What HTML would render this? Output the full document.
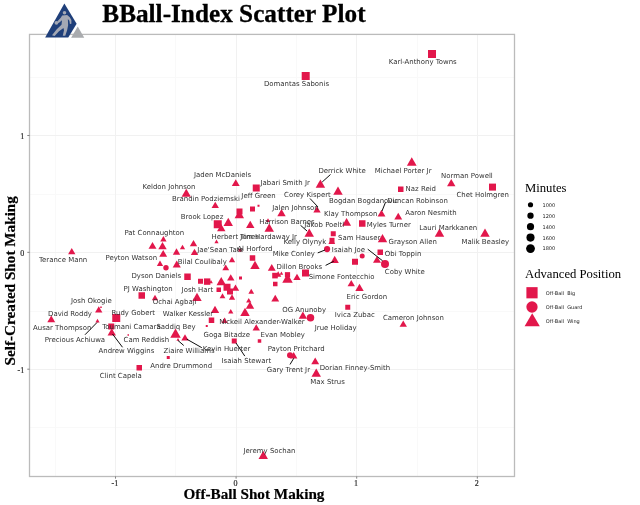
<!DOCTYPE html>
<html lang="en"><head><meta charset="utf-8"><title>BBall-Index Scatter Plot</title>
<style>
html,body{margin:0;padding:0;background:#fff;}
body{width:640px;height:505px;overflow:hidden;}
svg{display:block;}
.lab{font-family:"DejaVu Sans","Liberation Sans",sans-serif;font-size:6.95px;fill:#333333;}
.ser{font-family:"Liberation Serif","Times New Roman",serif;fill:#000;}
.tick{font-family:"Liberation Serif","Times New Roman",serif;font-size:8px;fill:#2a2a2a;stroke:#2a2a2a;stroke-width:0.2px;}
.key{font-family:"DejaVu Sans","Liberation Sans",sans-serif;font-size:5px;fill:#1a1a1a;}
</style></head><body>
<svg width="640" height="505" viewBox="0 0 640 505">
<rect x="0" y="0" width="640" height="505" fill="#ffffff"/>

<g stroke-linecap="butt" fill="none" shape-rendering="crispEdges">
<line x1="55.5" y1="34.4" x2="55.5" y2="476.5" stroke="#f9f9f9" stroke-width="1"/>
<line x1="175.5" y1="34.4" x2="175.5" y2="476.5" stroke="#f9f9f9" stroke-width="1"/>
<line x1="296.5" y1="34.4" x2="296.5" y2="476.5" stroke="#f9f9f9" stroke-width="1"/>
<line x1="417.5" y1="34.4" x2="417.5" y2="476.5" stroke="#f9f9f9" stroke-width="1"/>
<line x1="29.5" y1="427.5" x2="514.5" y2="427.5" stroke="#f9f9f9" stroke-width="1"/>
<line x1="29.5" y1="311.5" x2="514.5" y2="311.5" stroke="#f9f9f9" stroke-width="1"/>
<line x1="29.5" y1="194.5" x2="514.5" y2="194.5" stroke="#f9f9f9" stroke-width="1"/>
<line x1="29.5" y1="77.5" x2="514.5" y2="77.5" stroke="#f9f9f9" stroke-width="1"/>
<line x1="115.5" y1="34.4" x2="115.5" y2="476.5" stroke="#f1f1f1" stroke-width="1"/>
<line x1="236.5" y1="34.4" x2="236.5" y2="476.5" stroke="#f1f1f1" stroke-width="1"/>
<line x1="356.5" y1="34.4" x2="356.5" y2="476.5" stroke="#f1f1f1" stroke-width="1"/>
<line x1="477.5" y1="34.4" x2="477.5" y2="476.5" stroke="#f1f1f1" stroke-width="1"/>
<line x1="29.5" y1="369.5" x2="514.5" y2="369.5" stroke="#f1f1f1" stroke-width="1"/>
<line x1="29.5" y1="252.5" x2="514.5" y2="252.5" stroke="#f1f1f1" stroke-width="1"/>
<line x1="29.5" y1="135.5" x2="514.5" y2="135.5" stroke="#f1f1f1" stroke-width="1"/>
</g>
<g>
<rect x="428.00" y="50.00" width="8.00" height="8.00" fill="#E2174B"/>
<rect x="301.70" y="72.00" width="8.00" height="8.00" fill="#E2174B"/>
<polygon points="71.75,247.97 75.42,254.33 68.08,254.33" fill="#E2174B"/>
<polygon points="235.75,179.24 239.69,186.06 231.81,186.06" fill="#E2174B"/>
<rect x="252.75" y="184.50" width="7.00" height="7.00" fill="#E2174B"/>
<polygon points="186.25,188.65 190.87,196.65 181.63,196.65" fill="#E2174B"/>
<polygon points="215.25,201.72 218.93,208.08 211.57,208.08" fill="#E2174B"/>
<rect x="250.00" y="206.50" width="5.00" height="5.00" fill="#E2174B"/>
<rect x="257.50" y="204.75" width="2.00" height="2.00" fill="#E2174B"/>
<rect x="236.50" y="208.50" width="6.00" height="6.00" fill="#E2174B"/>
<polygon points="239.30,210.06 244.03,218.24 234.58,218.24" fill="#E2174B"/>
<polygon points="281.50,209.01 285.70,216.29 277.30,216.29" fill="#E2174B"/>
<rect x="213.75" y="220.25" width="8.00" height="8.00" fill="#E2174B"/>
<polygon points="221.25,224.01 225.45,231.29 217.05,231.29" fill="#E2174B"/>
<polygon points="228.25,217.81 232.97,225.99 223.53,225.99" fill="#E2174B"/>
<polygon points="250.25,220.76 254.45,228.04 246.05,228.04" fill="#E2174B"/>
<polygon points="268.00,218.33 270.10,221.97 265.90,221.97" fill="#E2174B"/>
<polygon points="269.25,223.56 273.98,231.74 264.52,231.74" fill="#E2174B"/>
<polygon points="309.25,228.56 313.98,236.74 304.52,236.74" fill="#E2174B"/>
<polygon points="216.50,239.58 218.60,243.22 214.40,243.22" fill="#E2174B"/>
<polygon points="193.50,239.97 197.18,246.33 189.82,246.33" fill="#E2174B"/>
<polygon points="163.40,236.12 166.55,241.58 160.25,241.58" fill="#E2174B"/>
<polygon points="152.50,241.89 156.49,248.81 148.51,248.81" fill="#E2174B"/>
<polygon points="162.50,242.01 166.70,249.29 158.30,249.29" fill="#E2174B"/>
<polygon points="182.50,244.63 185.12,249.17 179.88,249.17" fill="#E2174B"/>
<polygon points="176.50,248.37 180.18,254.73 172.82,254.73" fill="#E2174B"/>
<polygon points="194.50,248.72 198.18,255.08 190.82,255.08" fill="#E2174B"/>
<polygon points="163.20,249.94 167.14,256.76 159.26,256.76" fill="#E2174B"/>
<rect x="238.50" y="248.75" width="3.00" height="3.00" fill="#E2174B"/>
<polygon points="232.00,256.67 235.15,262.13 228.85,262.13" fill="#E2174B"/>
<rect x="249.75" y="255.25" width="5.50" height="5.50" fill="#E2174B"/>
<polygon points="255.00,260.81 259.73,268.99 250.28,268.99" fill="#E2174B"/>
<polygon points="176.75,260.50 180.84,267.60 172.66,267.60" fill="#E2174B"/>
<circle cx="166.00" cy="267.70" r="2.70" fill="#E2174B"/>
<polygon points="160.00,260.42 163.15,265.88 156.85,265.88" fill="#E2174B"/>
<polygon points="225.75,264.44 229.16,270.36 222.34,270.36" fill="#E2174B"/>
<polygon points="271.75,263.99 275.69,270.81 267.81,270.81" fill="#E2174B"/>
<rect x="184.25" y="273.50" width="6.50" height="6.50" fill="#E2174B"/>
<rect x="198.00" y="278.75" width="5.00" height="5.00" fill="#E2174B"/>
<rect x="203.95" y="278.40" width="6.40" height="6.40" fill="#E2174B"/>
<polygon points="211.00,280.06 212.84,283.24 209.16,283.24" fill="#E2174B"/>
<polygon points="230.75,274.22 234.43,280.58 227.07,280.58" fill="#E2174B"/>
<rect x="239.00" y="276.50" width="3.00" height="3.00" fill="#E2174B"/>
<polygon points="221.25,277.06 225.97,285.24 216.53,285.24" fill="#E2174B"/>
<rect x="223.50" y="283.75" width="7.00" height="7.00" fill="#E2174B"/>
<rect x="216.50" y="287.50" width="4.50" height="4.50" fill="#E2174B"/>
<polygon points="235.50,284.47 239.18,290.83 231.82,290.83" fill="#E2174B"/>
<rect x="227.00" y="288.50" width="6.00" height="6.00" fill="#E2174B"/>
<polygon points="222.50,293.15 225.39,298.15 219.61,298.15" fill="#E2174B"/>
<polygon points="232.00,294.17 235.15,299.63 228.85,299.63" fill="#E2174B"/>
<polygon points="197.00,292.81 201.72,300.99 192.28,300.99" fill="#E2174B"/>
<polygon points="251.25,288.65 254.14,293.65 248.36,293.65" fill="#E2174B"/>
<polygon points="248.75,297.88 251.38,302.42 246.12,302.42" fill="#E2174B"/>
<polygon points="250.00,301.51 254.20,308.79 245.80,308.79" fill="#E2174B"/>
<polygon points="245.00,307.81 249.72,315.99 240.28,315.99" fill="#E2174B"/>
<polygon points="230.75,308.88 233.38,313.42 228.12,313.42" fill="#E2174B"/>
<polygon points="215.00,305.76 219.20,313.04 210.80,313.04" fill="#E2174B"/>
<rect x="208.75" y="317.50" width="5.50" height="5.50" fill="#E2174B"/>
<rect x="205.75" y="325.00" width="2.00" height="2.00" fill="#E2174B"/>
<polygon points="224.50,317.42 227.65,322.88 221.35,322.88" fill="#E2174B"/>
<polygon points="256.25,324.22 259.93,330.58 252.57,330.58" fill="#E2174B"/>
<polygon points="175.50,328.60 180.75,337.70 170.25,337.70" fill="#E2174B"/>
<polygon points="185.00,334.22 188.68,340.58 181.32,340.58" fill="#E2174B"/>
<polygon points="178.00,338.04 179.57,340.76 176.43,340.76" fill="#E2174B"/>
<rect x="231.75" y="338.50" width="5.00" height="5.00" fill="#E2174B"/>
<rect x="257.75" y="339.25" width="3.50" height="3.50" fill="#E2174B"/>
<rect x="272.20" y="272.80" width="5.60" height="5.60" fill="#E2174B"/>
<polygon points="278.20,271.32 281.35,276.78 275.05,276.78" fill="#E2174B"/>
<polygon points="281.40,271.46 283.24,274.64 279.56,274.64" fill="#E2174B"/>
<rect x="284.90" y="272.15" width="5.20" height="5.20" fill="#E2174B"/>
<polygon points="287.50,273.60 292.75,282.70 282.25,282.70" fill="#E2174B"/>
<polygon points="297.00,273.72 300.68,280.08 293.32,280.08" fill="#E2174B"/>
<rect x="302.00" y="269.50" width="7.00" height="7.00" fill="#E2174B"/>
<rect x="273.00" y="281.75" width="4.50" height="4.50" fill="#E2174B"/>
<polygon points="275.25,294.74 279.19,301.56 271.31,301.56" fill="#E2174B"/>
<polygon points="302.90,311.51 307.10,318.79 298.70,318.79" fill="#E2174B"/>
<circle cx="310.50" cy="317.75" r="3.75" fill="#E2174B"/>
<rect x="330.75" y="231.25" width="5.00" height="5.00" fill="#E2174B"/>
<rect x="329.50" y="237.80" width="5.00" height="5.00" fill="#E2174B"/>
<polygon points="331.80,238.09 335.21,244.01 328.39,244.01" fill="#E2174B"/>
<circle cx="327.10" cy="249.10" r="3.10" fill="#E2174B"/>
<polygon points="382.50,234.06 387.23,242.24 377.77,242.24" fill="#E2174B"/>
<polygon points="439.50,228.56 444.23,236.74 434.77,236.74" fill="#E2174B"/>
<rect x="377.50" y="249.50" width="5.50" height="5.50" fill="#E2174B"/>
<circle cx="362.20" cy="256.00" r="2.50" fill="#E2174B"/>
<polygon points="334.70,255.85 338.80,262.95 330.60,262.95" fill="#E2174B"/>
<rect x="352.00" y="258.75" width="6.00" height="6.00" fill="#E2174B"/>
<polygon points="377.00,255.94 380.99,262.86 373.01,262.86" fill="#E2174B"/>
<circle cx="385.00" cy="264.00" r="4.00" fill="#E2174B"/>
<polygon points="351.25,279.97 354.93,286.33 347.57,286.33" fill="#E2174B"/>
<polygon points="359.50,283.76 363.70,291.04 355.30,291.04" fill="#E2174B"/>
<rect x="345.25" y="304.75" width="5.00" height="5.00" fill="#E2174B"/>
<polygon points="403.25,320.47 406.93,326.83 399.57,326.83" fill="#E2174B"/>
<polygon points="320.40,179.56 325.12,187.74 315.67,187.74" fill="#E2174B"/>
<polygon points="317.00,206.22 320.68,212.58 313.32,212.58" fill="#E2174B"/>
<polygon points="411.75,157.17 416.63,165.63 406.87,165.63" fill="#E2174B"/>
<polygon points="451.25,179.01 455.45,186.29 447.05,186.29" fill="#E2174B"/>
<rect x="398.00" y="186.50" width="5.50" height="5.50" fill="#E2174B"/>
<polygon points="338.00,186.56 342.73,194.74 333.27,194.74" fill="#E2174B"/>
<polygon points="381.50,209.74 385.44,216.56 377.56,216.56" fill="#E2174B"/>
<polygon points="398.25,212.74 402.19,219.56 394.31,219.56" fill="#E2174B"/>
<polygon points="346.60,218.04 351.06,225.76 342.14,225.76" fill="#E2174B"/>
<rect x="359.00" y="220.25" width="6.50" height="6.50" fill="#E2174B"/>
<rect x="489.00" y="183.60" width="7.00" height="7.00" fill="#E2174B"/>
<polygon points="485.00,228.56 489.73,236.74 480.27,236.74" fill="#E2174B"/>
<rect x="138.50" y="292.25" width="6.50" height="6.50" fill="#E2174B"/>
<polygon points="155.00,294.67 158.15,300.13 151.85,300.13" fill="#E2174B"/>
<polygon points="98.75,306.22 102.42,312.58 95.08,312.58" fill="#E2174B"/>
<rect x="100.25" y="306.50" width="1.50" height="1.50" fill="#E2174B"/>
<polygon points="51.25,315.49 55.19,322.31 47.31,322.31" fill="#E2174B"/>
<rect x="112.25" y="314.00" width="8.00" height="8.00" fill="#E2174B"/>
<polygon points="97.50,318.83 99.60,322.47 95.40,322.47" fill="#E2174B"/>
<rect x="108.25" y="323.50" width="6.00" height="6.00" fill="#E2174B"/>
<polygon points="111.75,328.26 115.95,335.54 107.55,335.54" fill="#E2174B"/>
<rect x="127.50" y="334.25" width="1.50" height="1.50" fill="#E2174B"/>
<rect x="136.50" y="365.00" width="5.50" height="5.50" fill="#E2174B"/>
<rect x="166.75" y="356.00" width="3.00" height="3.00" fill="#E2174B"/>
<circle cx="290.00" cy="355.25" r="3.00" fill="#E2174B"/>
<polygon points="293.70,352.07 297.38,358.43 290.02,358.43" fill="#E2174B"/>
<polygon points="315.20,357.49 319.14,364.31 311.26,364.31" fill="#E2174B"/>
<polygon points="316.25,368.46 320.98,376.64 311.52,376.64" fill="#E2174B"/>
<polygon points="263.25,450.81 267.98,458.99 258.52,458.99" fill="#E2174B"/>
</g>
<g stroke="#000" stroke-width="0.95" fill="none">
<line x1="310" y1="198.5" x2="318" y2="207"/>
<line x1="300.5" y1="225.25" x2="307" y2="231"/>
<line x1="330.5" y1="174.5" x2="322.2" y2="182"/>
<line x1="385.5" y1="202.25" x2="382" y2="211"/>
<line x1="367.75" y1="249.2" x2="382.6" y2="260.8"/>
<line x1="325.6" y1="265.4" x2="333.75" y2="261.25"/>
<line x1="317.75" y1="252.9" x2="325" y2="250"/>
<line x1="97" y1="322.5" x2="85" y2="334.75"/>
<line x1="112.5" y1="334" x2="122.5" y2="347.25"/>
<line x1="186.7" y1="339.1" x2="201.8" y2="347.7"/>
<line x1="178" y1="340.5" x2="183.75" y2="345.5"/>
<line x1="236" y1="343" x2="244.8" y2="356.1"/>
<line x1="293.75" y1="358.25" x2="290" y2="364.5"/>
</g>
<g class="lab">
<text x="422.72" y="63.75" text-anchor="middle">Karl-Anthony Towns</text>
<text x="296.49" y="86.00" text-anchor="middle">Domantas Sabonis</text>
<text x="222.56" y="176.75" text-anchor="middle">Jaden McDaniels</text>
<text x="285.17" y="185.00" text-anchor="middle">Jabari Smith Jr</text>
<text x="169.03" y="189.00" text-anchor="middle">Keldon Johnson</text>
<text x="205.88" y="201.20" text-anchor="middle">Brandin Podziemski</text>
<text x="258.51" y="198.00" text-anchor="middle">Jeff Green</text>
<text x="307.41" y="197.00" text-anchor="middle">Corey Kispert</text>
<text x="295.53" y="209.50" text-anchor="middle">Jalen Johnson</text>
<text x="202.06" y="219.00" text-anchor="middle">Brook Lopez</text>
<text x="287.00" y="223.50" text-anchor="middle">Harrison Barnes</text>
<text x="235.23" y="238.75" text-anchor="middle">Herbert Jones</text>
<text x="268.52" y="238.90" text-anchor="middle">Tim Hardaway Jr</text>
<text x="304.90" y="244.00" text-anchor="middle">Kelly Olynyk</text>
<text x="220.47" y="251.50" text-anchor="middle">Jae&#x27;Sean Tate</text>
<text x="254.86" y="251.00" text-anchor="middle">Al Horford</text>
<text x="154.37" y="234.90" text-anchor="middle">Pat Connaughton</text>
<text x="63.12" y="261.75" text-anchor="middle">Terance Mann</text>
<text x="131.30" y="260.25" text-anchor="middle">Peyton Watson</text>
<text x="156.36" y="277.75" text-anchor="middle">Dyson Daniels</text>
<text x="148.15" y="291.00" text-anchor="middle">PJ Washington</text>
<text x="174.68" y="304.00" text-anchor="middle">Ochai Agbaji</text>
<text x="91.37" y="303.00" text-anchor="middle">Josh Okogie</text>
<text x="70.02" y="316.00" text-anchor="middle">David Roddy</text>
<text x="133.31" y="315.25" text-anchor="middle">Rudy Gobert</text>
<text x="62.19" y="330.00" text-anchor="middle">Ausar Thompson</text>
<text x="131.48" y="329.00" text-anchor="middle">Toumani Camara</text>
<text x="176.01" y="328.70" text-anchor="middle">Saddiq Bey</text>
<text x="74.91" y="342.25" text-anchor="middle">Precious Achiuwa</text>
<text x="146.35" y="342.25" text-anchor="middle">Cam Reddish</text>
<text x="126.41" y="353.00" text-anchor="middle">Andrew Wiggins</text>
<text x="202.31" y="264.25" text-anchor="middle">Bilal Coulibaly</text>
<text x="299.34" y="268.50" text-anchor="middle">Dillon Brooks</text>
<text x="293.80" y="256.00" text-anchor="middle">Mike Conley</text>
<text x="197.39" y="292.25" text-anchor="middle">Josh Hart</text>
<text x="188.01" y="315.90" text-anchor="middle">Walker Kessler</text>
<text x="261.84" y="323.50" text-anchor="middle">Nickeil Alexander-Walker</text>
<text x="304.18" y="311.50" text-anchor="middle">OG Anunoby</text>
<text x="226.78" y="337.25" text-anchor="middle">Goga Bitadze</text>
<text x="282.71" y="337.25" text-anchor="middle">Evan Mobley</text>
<text x="226.64" y="351.00" text-anchor="middle">Kevin Huerter</text>
<text x="296.24" y="351.00" text-anchor="middle">Payton Pritchard</text>
<text x="189.07" y="352.75" text-anchor="middle">Ziaire Williams</text>
<text x="335.75" y="329.75" text-anchor="middle">Jrue Holiday</text>
<text x="359.18" y="239.50" text-anchor="middle">Sam Hauser</text>
<text x="412.71" y="244.00" text-anchor="middle">Grayson Allen</text>
<text x="485.31" y="244.00" text-anchor="middle">Malik Beasley</text>
<text x="348.49" y="252.25" text-anchor="middle">Isaiah Joe</text>
<text x="403.07" y="256.00" text-anchor="middle">Obi Toppin</text>
<text x="404.82" y="274.00" text-anchor="middle">Coby White</text>
<text x="341.61" y="279.25" text-anchor="middle">Simone Fontecchio</text>
<text x="366.87" y="298.50" text-anchor="middle">Eric Gordon</text>
<text x="354.82" y="317.25" text-anchor="middle">Ivica Zubac</text>
<text x="413.50" y="320.25" text-anchor="middle">Cameron Johnson</text>
<text x="342.07" y="172.75" text-anchor="middle">Derrick White</text>
<text x="403.14" y="172.75" text-anchor="middle">Michael Porter Jr</text>
<text x="466.91" y="178.00" text-anchor="middle">Norman Powell</text>
<text x="420.82" y="190.50" text-anchor="middle">Naz Reid</text>
<text x="482.71" y="196.75" text-anchor="middle">Chet Holmgren</text>
<text x="363.57" y="203.00" text-anchor="middle">Bogdan Bogdanovic</text>
<text x="417.52" y="203.00" text-anchor="middle">Duncan Robinson</text>
<text x="350.70" y="215.50" text-anchor="middle">Klay Thompson</text>
<text x="431.00" y="215.25" text-anchor="middle">Aaron Nesmith</text>
<text x="388.79" y="227.25" text-anchor="middle">Myles Turner</text>
<text x="324.21" y="226.75" text-anchor="middle">Jakob Poeltl</text>
<text x="448.17" y="229.75" text-anchor="middle">Lauri Markkanen</text>
<text x="120.81" y="377.75" text-anchor="middle">Clint Capela</text>
<text x="181.18" y="367.50" text-anchor="middle">Andre Drummond</text>
<text x="246.34" y="363.25" text-anchor="middle">Isaiah Stewart</text>
<text x="288.42" y="372.00" text-anchor="middle">Gary Trent Jr</text>
<text x="327.62" y="384.00" text-anchor="middle">Max Strus</text>
<text x="354.90" y="369.50" text-anchor="middle">Dorian Finney-Smith</text>
<text x="269.47" y="452.50" text-anchor="middle">Jeremy Sochan</text>
</g>
<rect x="29.5" y="34.4" width="485.0" height="442.1" fill="none" stroke="#bbbbbb" stroke-width="1.3"/>
<g stroke="#666" stroke-width="0.8">
<line x1="115.50" y1="476.5" x2="115.50" y2="478.7"/>
<line x1="236.10" y1="476.5" x2="236.10" y2="478.7"/>
<line x1="356.70" y1="476.5" x2="356.70" y2="478.7"/>
<line x1="477.30" y1="476.5" x2="477.30" y2="478.7"/>
<line x1="27.3" y1="369.20" x2="29.5" y2="369.20"/>
<line x1="27.3" y1="252.35" x2="29.5" y2="252.35"/>
<line x1="27.3" y1="135.50" x2="29.5" y2="135.50"/>
</g>
<g class="tick">
<text x="114.90" y="486.0" text-anchor="middle">-1</text>
<text x="235.50" y="486.0" text-anchor="middle">0</text>
<text x="356.10" y="486.0" text-anchor="middle">1</text>
<text x="476.70" y="486.0" text-anchor="middle">2</text>
<text x="24.2" y="372.50" text-anchor="end">-1</text>
<text x="24.2" y="255.65" text-anchor="end">0</text>
<text x="24.2" y="138.80" text-anchor="end">1</text>
</g>
<text class="ser" x="102.3" y="22" font-size="25.25px" font-weight="bold" stroke="#000" stroke-width="0.3">BBall-Index Scatter Plot</text>
<text class="ser" x="254" y="498.6" font-size="15.2px" font-weight="bold" stroke="#000" stroke-width="0.2" text-anchor="middle">Off-Ball Shot Making</text>
<text class="ser" transform="translate(14.8,280.75) rotate(-90)" font-size="15.2px" font-weight="bold" stroke="#000" stroke-width="0.2" text-anchor="middle">Self-Created Shot Making</text>
<g transform="translate(30,0) scale(0.125)">
<polygon points="275,28 373,190 306,299 121,299" fill="#1f3f7a"/>
<polygon points="382,212 434,301 329,301" fill="#a9abae"/>
<g fill="#a4a8b4">
<circle cx="276" cy="101" r="14"/>
<circle cx="211" cy="182" r="15"/>
<path d="M257 123 L297 120 L318 138 L331 160 L331 190 L319 191 L315 166 L303 152 L305 202 L297 242 L282 286 L262 286 L272 242 L268 224 L232 250 L197 287 L176 281 L214 233 L252 197 L256 162 L228 186 L218 172 L246 142 Z"/>
</g>
</g>
<text class="ser" x="525" y="192.3" font-size="12.68px">Minutes</text>
<circle cx="530.5" cy="204.75" r="2.6" fill="#000"/>
<text class="key" x="542.5" y="206.65">1000</text>
<circle cx="530.5" cy="215.70" r="3.15" fill="#000"/>
<text class="key" x="542.5" y="217.60">1200</text>
<circle cx="530.5" cy="226.65" r="3.6" fill="#000"/>
<text class="key" x="542.5" y="228.55">1400</text>
<circle cx="530.5" cy="237.60" r="4.05" fill="#000"/>
<text class="key" x="542.5" y="239.50">1600</text>
<circle cx="530.5" cy="248.55" r="4.4" fill="#000"/>
<text class="key" x="542.5" y="250.45">1800</text>
<text class="ser" x="525" y="278.3" font-size="12.68px">Advanced Position</text>
<rect x="526.40" y="287.15" width="11.20" height="11.20" fill="#E2174B"/>
<circle cx="532.00" cy="307.00" r="5.65" fill="#E2174B"/>
<polygon points="532.2,313.2 539.8,326.2 524.6,326.2" fill="#E2174B"/>
<text class="key" x="545.75" y="294.65" style="white-space:pre">Off-Ball  Big</text>
<text class="key" x="545.75" y="308.75" style="white-space:pre">Off-Ball  Guard</text>
<text class="key" x="545.75" y="322.85" style="white-space:pre">Off-Ball  Wing</text>
</svg></body></html>
